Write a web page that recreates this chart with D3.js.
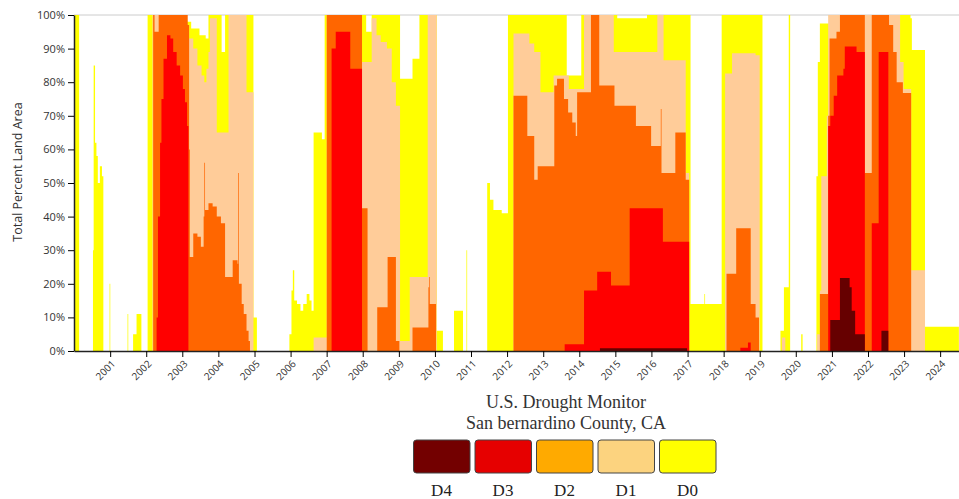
<!DOCTYPE html>
<html>
<head>
<meta charset="utf-8">
<script src="https://cdnjs.cloudflare.com/ajax/libs/d3/7.8.5/d3.min.js"></script>
<style>
body { margin: 0; background: #fff; }
</style>
</head>
<body>
<div class="canvas"></div>
<script>
// cumulative percent of land area, weekly breakpoints
var d0_values = [
	["2000-01-04",100],["2000-02-22",0],
	["2000-07-11",30],["2000-07-18",85],["2000-08-01",62],["2000-08-15",58],["2000-08-29",50],["2000-09-19",55],["2000-10-10",52],["2000-10-24",0],
	["2000-12-26",20],["2001-01-02",0],
	["2001-06-26",11],["2001-07-03",0],
	["2001-08-21",5],["2001-09-25",11],["2001-11-13",0],
	["2002-01-15",100],["2003-02-11",98],["2003-04-01",96],["2003-06-24",94],["2003-08-26",93],["2003-09-23",100],["2004-02-03",89],["2004-03-09",100],["2004-12-21",10],["2005-01-25",0],
	["2005-12-20",5],["2006-01-10",18],["2006-01-24",24],["2006-02-07",15],["2006-03-07",14],["2006-04-11",12],["2006-05-09",14],["2006-06-13",17],["2006-07-11",15],["2006-08-01",12],["2006-08-22",65],["2006-11-14",63],["2006-12-12",100],
	["2008-02-05",95],["2008-04-01",100],["2009-01-13",81],["2009-05-19",87],["2009-07-28",100],["2010-01-19",6],["2010-03-23",0],
	["2010-07-13",12],["2010-10-12",0],["2010-11-16",30],["2010-11-23",0],
	["2011-06-14",50],["2011-07-12",45],["2011-08-16",42],["2011-11-08",41],["2012-01-10",100],
	["2013-08-27",82],["2014-01-21",100],["2015-01-20",99],["2015-11-17",100],["2017-01-31",14],["2017-06-20",17],["2017-06-27",14],["2017-12-12",100],["2019-01-29",0],
	["2019-07-30",6],["2019-09-03",19],["2019-10-22",100],["2019-11-05",0],
	["2020-02-25",5],["2020-03-10",0],
	["2020-07-28",52],["2020-08-11",86],["2020-09-01",97.5],["2020-12-01",100],["2023-03-07",99],["2023-03-21",89.6],["2023-08-01",7.2],["2024-07-09",7.2]
];
var d1_values = [
	["2002-03-05",100],["2003-02-11",97],["2003-03-11",93],["2003-04-22",90],["2003-06-03",85],["2003-07-15",82],["2003-08-12",80],["2003-09-02",84],["2003-09-23",89],["2003-10-07",99],["2003-12-16",65],["2004-04-13",100],["2004-10-12",77],["2004-12-21",0],
	["2006-08-22",4],["2007-01-02",100],["2007-12-25",86],["2008-04-01",99],["2008-05-20",94],["2008-07-01",92],["2008-09-02",90],["2008-10-21",80],["2008-12-02",73],["2009-01-13",3],["2009-04-21",22],["2009-10-20",100],["2010-01-19",0],
	["2012-03-06",94.5],["2012-08-14",91.5],["2012-10-02",89],["2012-12-04",77],["2013-04-16",82],["2013-09-17",78],["2014-02-18",100],["2014-12-16",89],["2016-03-01",100],["2016-05-03",86.5],["2016-12-13",53],["2017-01-17",0],
	["2018-01-16",82.6],["2018-03-27",88.6],["2018-11-20",88],["2019-01-01",0],
	["2019-08-13",4],["2019-09-17",0],
	["2020-08-04",5],["2020-09-01",18],["2020-09-15",52],["2020-11-10",70],["2020-11-24",100],["2022-11-22",86],["2022-12-27",78],["2023-03-14",24],["2023-08-01",0]
];
var d2_values = [
	["2002-03-12",100],["2002-03-26",95],["2002-05-07",100],["2003-02-25",97],["2003-03-11",60],["2003-03-18",28],["2003-04-22",35],["2003-06-03",34],["2003-07-08",31],["2003-08-05",40],["2003-08-12",56],["2003-08-19",42],["2003-09-23",44],["2003-11-04",43],["2003-12-16",40],["2004-01-27",38],["2004-03-09",22],["2004-05-04",22],["2004-05-25",27],["2004-07-13",26],["2004-07-20",53],["2004-07-27",20],["2004-08-24",14],["2004-09-14",11],["2004-10-12",6],["2004-11-02",3],["2004-11-16",0],
	["2007-01-02",100],["2007-12-25",42.5],["2008-02-19",0],["2008-05-27",13],["2008-09-09",28],["2008-12-02",3],["2009-01-06",0],["2009-05-19",7],["2009-10-27",19],["2009-11-03",22],["2009-11-10",14],["2010-01-12",0],
	["2012-03-06",76],["2012-07-24",64],["2012-10-02",51],["2012-11-06",55],["2013-04-23",79],["2013-05-21",81],["2013-07-30",75],["2013-09-10",71],["2013-10-22",68],["2013-11-26",64],["2013-12-10",77],["2014-04-29",100],["2014-07-22",79],["2014-12-23",73],["2015-07-28",67],["2015-12-29",61],["2016-04-05",72],["2016-04-12",53],["2016-08-30",65],["2016-12-13",51],["2017-01-17",0],
	["2018-01-30",23],["2018-05-08",36.5],["2018-10-02",14],["2018-11-20",10],["2018-12-25",0],
	["2020-09-01",17],["2020-11-24",70],["2020-12-08",93],["2021-02-16",95],["2021-03-23",100],["2021-11-30",53],["2022-02-08",100],["2022-08-02",97],["2022-09-13",89],["2022-10-18",80],["2022-12-20",76.8],["2023-03-14",0]
];
var d3_values = [
	["2002-04-16",10],["2002-04-30",40],["2002-05-21",62],["2002-06-04",75],["2002-06-25",87],["2002-07-30",94],["2002-09-03",93],["2002-10-01",89],["2002-11-05",85],["2002-12-10",82],["2003-01-07",78],["2003-01-28",74],["2003-02-18",67],["2003-03-04",0],
	["2007-02-20",90],["2007-04-03",95],["2007-08-28",84],["2007-12-25",0],
	["2013-08-06",2],["2014-02-18",18],["2014-07-01",23.6],["2014-11-18",19.5],["2015-05-26",42.5],["2016-04-26",32.5],["2017-01-17",0],
	["2018-06-19",1],["2018-09-04",2.5],["2018-10-02",0],
	["2020-11-24",67],["2020-12-15",70],["2021-01-19",76],["2021-02-23",82],["2021-04-27",84],["2021-05-11",90.6],["2021-09-07",89],["2021-11-30",0],["2022-02-08",38],["2022-04-19",89],["2022-07-26",0]
];
var d4_values = [
	["2014-07-29",0.8],["2016-12-27",0],
	["2020-12-15",9.2],["2021-03-23",21.7],["2021-06-29",19],["2021-07-20",12],["2021-08-24",5],["2021-11-30",0],["2022-05-17",6],["2022-07-26",0]
];
var categories = ["D4", "D3", "D2", "D1", "D0"];
var area_colors = {"D0": "#ffff00", "D1": "#ffcc99", "D2": "#ff6600", "D3": "#ff0000", "D4": "#660000"};
var legend_colors = {"D0": "#ffff00", "D1": "#fcd37f", "D2": "#ffaa00", "D3": "#e60000", "D4": "#730000"};
var y_ticks = [0, 10, 20, 30, 40, 50, 60, 70, 80, 90, 100];
var x_tick_years = [2001,2002,2003,2004,2005,2006,2007,2008,2009,2010,2011,2012,2013,2014,2015,2016,2017,2018,2019,2020,2021,2022,2023,2024];
var start_date = "2000-01-01";
var end_date = "2024-07-10";

var fig_width = 959;
var fig_height = 499;
var left_margin = 74;
var plot_top = 15;
var plot_bottom = 351;

var svg = d3.select("body div.canvas").append("svg")
	.attr("width", fig_width)
	.attr("height", fig_height);

var parse = d3.timeParse("%Y-%m-%d");
var x = d3.scaleTime().domain([parse(start_date), parse(end_date)]).range([left_margin, fig_width]);
var y = d3.scaleLinear().domain([0, 100]).range([plot_bottom, plot_top]);

var series = {"D0": d0_values, "D1": d1_values, "D2": d2_values, "D3": d3_values, "D4": d4_values};

var area = d3.area()
	.curve(d3.curveStepAfter)
	.x(function(d) { return x(parse(d[0])); })
	.y0(y(0))
	.y1(function(d) { return y(d[1]); });

// top frame line
svg.append("line")
	.attr("x1", left_margin).attr("x2", fig_width)
	.attr("y1", plot_top).attr("y2", plot_top)
	.attr("stroke", "#cccccc").attr("stroke-width", 1);

["D0", "D1", "D2", "D3", "D4"].forEach(function(k) {
	svg.append("path")
		.datum(series[k])
		.attr("d", area)
		.attr("fill", area_colors[k])
		.attr("stroke", "none");
});

var yAxis = svg.append("g")
	.attr("transform", "translate(" + left_margin + ",0)")
	.call(d3.axisLeft(y).tickValues(y_ticks).tickSizeOuter(0).tickFormat(function(d) { return d + "%"; }));
yAxis.selectAll("text").style("font-family", "Open Sans").style("font-size", "11px").style("fill", "#333");
yAxis.select(".domain").attr("stroke", "#222").attr("stroke-width", 1.5);

var xAxis = svg.append("g")
	.attr("transform", "translate(0," + plot_bottom + ")")
	.call(d3.axisBottom(x)
		.tickValues(x_tick_years.map(function(yr) { return parse(yr + "-01-01"); }))
		.tickSizeOuter(0)
		.tickFormat(d3.timeFormat("%Y")));
xAxis.select(".domain").attr("stroke", "#222").attr("stroke-width", 1.5);
xAxis.selectAll("text")
	.attr("x", 0).attr("y", 0).attr("dy", "0.35em")
	.attr("transform", "translate(3,11) rotate(-45)")
	.style("text-anchor", "end")
	.style("font-family", "Open Sans")
	.style("font-size", "10px")
	.style("fill", "#333");

svg.append("text")
	.attr("transform", "translate(22,172) rotate(-90)")
	.style("text-anchor", "middle")
	.style("font-family", "Open Sans")
	.style("font-size", "12.5px")
	.style("fill", "#333")
	.text("Total Percent Land Area");

svg.append("text")
	.attr("x", 566).attr("y", 408)
	.style("text-anchor", "middle")
	.style("font-family", "Liberation Serif")
	.style("font-size", "18px")
	.style("fill", "#333")
	.text("U.S. Drought Monitor");
svg.append("text")
	.attr("x", 566).attr("y", 429)
	.style("text-anchor", "middle")
	.style("font-family", "Liberation Serif")
	.style("font-size", "18px")
	.style("fill", "#333")
	.text("San bernardino County, CA");

var legend_x = 413.5;
var legend_step = 61.5;
categories.forEach(function(c, index) {
	svg.append("rect")
		.attr("x", legend_x + index * legend_step)
		.attr("y", 440)
		.attr("width", 56.5)
		.attr("height", 33)
		.attr("rx", 3)
		.attr("fill", legend_colors[c])
		.attr("stroke", "#444")
		.attr("stroke-width", 1);
	svg.append("text")
		.attr("x", legend_x + index * legend_step + 28)
		.attr("y", 496)
		.style("text-anchor", "middle")
		.style("font-family", "Liberation Serif")
		.style("font-size", "17px")
		.style("fill", "#222")
		.text(c);
});
</script>
</body>
</html>
